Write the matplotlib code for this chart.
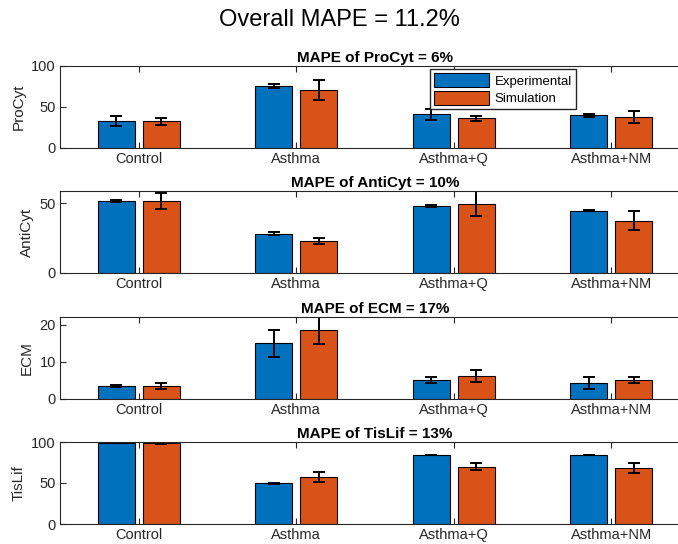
import numpy as np
import matplotlib.pyplot as plt

plt.rcParams['font.family'] = ['Liberation Sans', 'DejaVu Sans']

groups = ['Control', 'Asthma', 'Asthma+Q', 'Asthma+NM']
names = ['ProCyt', 'AntiCyt', 'ECM', 'TisLif']
mape = [6, 10, 17, 13]
overall = 11.2

exp_mean = [[32.6, 75.6, 40.9, 39.7],
            [51.7, 28.3, 48.1, 44.8],
            [3.6, 14.95, 5.1, 4.3],
            [98.8, 49.6, 84.1, 84.1]]
exp_err = [[6.2, 2.7, 6.4, 1.5],
           [0.8, 0.8, 0.8, 0.5],
           [0.3, 3.7, 0.9, 1.55],
           [0.5, 0.4, 0.5, 0.5]]
sim_mean = [[32.6, 71.1, 36.0, 37.6],
            [51.7, 22.9, 49.8, 37.6],
            [3.5, 18.5, 6.2, 5.1],
            [98.8, 57.3, 69.9, 68.3]]
sim_err = [[4.0, 12.0, 3.3, 7.4],
           [5.6, 1.9, 9.2, 6.8],
           [0.8, 3.6, 1.65, 0.9],
           [0.7, 5.7, 3.9, 5.9]]
ylims = [100, 58.8, 22.07, 100]
yticks = [[0, 50, 100], [0, 50], [0, 10, 20], [0, 50, 100]]

blue = '#0072BD'
orange = '#D95319'
dark = '#262626'

W, H = 678, 544
fig = plt.figure(figsize=(W / 100, H / 100), dpi=100)
fig.suptitle('Overall MAPE = %.1f%%' % overall, fontsize=17, y=1 - 20 / H, va='center')

tops = [66, 191, 317, 442]
axh = 82
x = np.arange(1, 5)
off = 0.143
bw = 0.235

for i in range(4):
    ax = fig.add_axes([60 / W, 1 - (tops[i] + axh) / H, 630 / W, axh / H])
    ax.bar(x - off, exp_mean[i], bw, color=blue, edgecolor='black', linewidth=0.8, label='Experimental')
    ax.bar(x + off, sim_mean[i], bw, color=orange, edgecolor='black', linewidth=0.8, label='Simulation')
    ax.errorbar(x - off, exp_mean[i], yerr=exp_err[i], fmt='none', ecolor='black',
                elinewidth=1.4, capsize=4, capthick=1.4)
    ax.errorbar(x + off, sim_mean[i], yerr=sim_err[i], fmt='none', ecolor='black',
                elinewidth=1.4, capsize=4, capthick=1.4)
    ax.set_xlim(0.5, 4.5)
    ax.set_ylim(0, ylims[i])
    ax.set_xticks(x)
    ax.set_xticklabels(groups)
    ax.set_yticks(yticks[i])
    ax.tick_params(direction='in', top=True, right=True, labelsize=10.5, colors=dark,
                   length=4, width=0.8, pad=3)
    for s in ax.spines.values():
        s.set_color(dark)
        s.set_linewidth(0.8)
    ax.set_ylabel(names[i], fontsize=11, color=dark, labelpad=4)
    ax.set_title('MAPE of %s = %d%%' % (names[i], mape[i]), fontsize=11, fontweight='bold', pad=3)
    if i == 0:
        ax.legend(loc='upper left', bbox_to_anchor=(430 / W, 1 - 69 / H), bbox_transform=fig.transFigure,
                  fontsize=9.5, handlelength=4.2, handleheight=1.3, fancybox=False, edgecolor=dark,
                  framealpha=1, borderpad=0.3, labelspacing=0.25, handletextpad=0.4, borderaxespad=0)

fig.savefig('out.png', dpi=100)
